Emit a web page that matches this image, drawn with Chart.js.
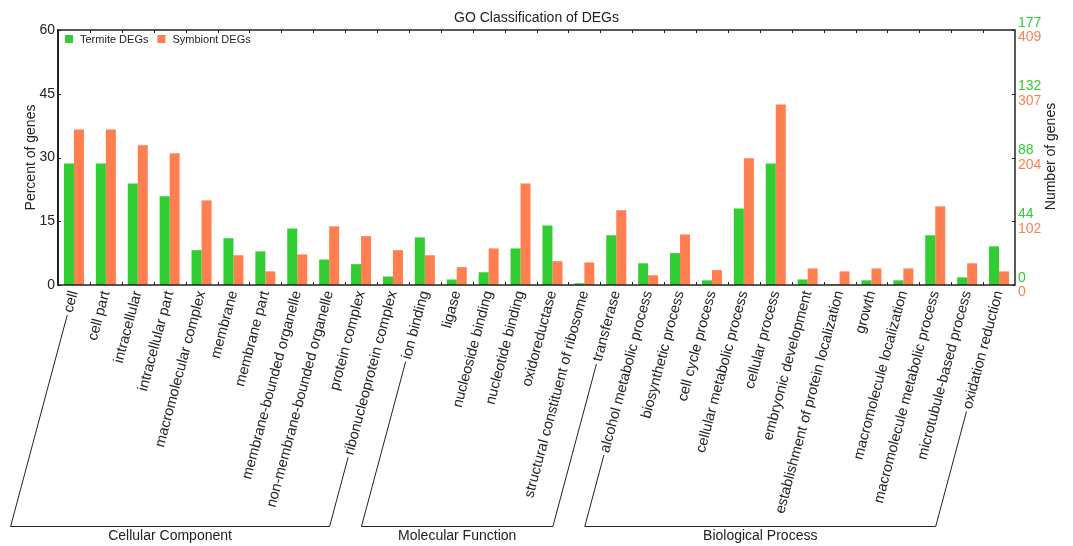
<!DOCTYPE html>
<html><head><meta charset="utf-8">
<script src="https://cdn.jsdelivr.net/npm/chart.js@4/dist/chart.umd.min.js"></script>
<style>html,body{margin:0;padding:0;background:#fff;}</style>
</head><body>
<canvas id="c" width="1073" height="546"></canvas>
<script>
const categories = ['cell','cell part','intracellular','intracellular part','macromolecular complex','membrane','membrane part','membrane-bounded organelle','non-membrane-bounded organelle','protein complex','ribonucleoprotein complex','ion binding','ligase','nucleoside binding','nucleotide binding','oxidoreductase','structural constituent of ribosome','transferase','alcohol metabolic process','biosynthetic process','cell cycle process','cellular metabolic process','cellular process','embryonic development','establishment of protein localization','growth','macromolecule localization','macromolecule metabolic process','microtubule-based process','oxidation reduction'];
const termite = [28.6,28.6,23.9,20.9,8.2,11.0,7.9,13.3,6.0,4.9,2.0,11.2,1.3,3.0,8.6,14.0,0.4,11.7,5.1,7.5,1.1,18.0,28.6,1.3,0.15,1.1,1.1,11.7,1.8,9.1];
const symbiont = [36.6,36.6,32.9,31.0,19.9,7.0,3.2,7.2,13.8,11.5,8.2,7.0,4.2,8.6,23.9,5.6,5.3,17.6,2.3,11.9,3.5,29.8,42.5,3.9,3.2,3.9,3.9,18.5,5.1,3.2];
const percentTicks = [0,15,30,45,60];
const termiteCountTicks = ['0','44','88','132','177'];
const symbiontCountTicks = ['0','102','204','307','409'];
const groupNames = ['Cellular Component','Molecular Function','Biological Process'];
const groupFirst = [0,11,18];
const groupLast = [10,17,29];

const GREEN = '#32CD32', ORANGE = '#FF7F50', INK = '#222';
const FONT = 'Arial, "Liberation Sans", sans-serif';
Chart.defaults.font.family = FONT;
Chart.defaults.color = INK;

function line(ctx,x1,y1,x2,y2){ctx.beginPath();ctx.moveTo(x1,y1);ctx.lineTo(x2,y2);ctx.stroke();}

const decor = {
  id:'decor',
  afterDraw(chart){
    const {ctx, chartArea:a, scales:{x,y,y2}} = chart;
    ctx.save();
    ctx.strokeStyle = INK;
    ctx.lineWidth = 1.5;
    ctx.strokeRect(a.left, a.top, a.right-a.left, a.bottom-a.top);
    ctx.lineWidth = 2;
    line(ctx, a.left, a.top-0.75, a.left, a.bottom+0.75);
    ctx.lineWidth = 1;
    y.ticks.forEach((t,i)=>{const py=Math.round(y.getPixelForTick(i))+0.5; line(ctx,a.left,py,a.left+3,py); line(ctx,a.right-3,py,a.right,py);});
    for(let i=0;i<categories.length-1;i++){
      const px = Math.round((x.getPixelForTick(i)+x.getPixelForTick(i+1))/2)+0.5;
      line(ctx,px,a.bottom,px,a.bottom-3); line(ctx,px,a.top,px,a.top+3);
    }
    // orange count labels on right axis
    ctx.fillStyle = ORANGE; ctx.font = '14px '+FONT; ctx.textAlign='left'; ctx.textBaseline='middle';
    y2.ticks.forEach((t,i)=>{ ctx.fillText(symbiontCountTicks[i], y2.left+3, y2.getPixelForTick(i)+7.6); });
    // right axis title, reading bottom to top
    ctx.save();
    ctx.translate(1051, (a.top+a.bottom)/2 - 1);
    ctx.rotate(-Math.PI/2);
    ctx.fillStyle = INK; ctx.textAlign='center'; ctx.textBaseline='middle';
    ctx.fillText('Number of genes', 0, 0);
    ctx.restore();
    // legend
    ctx.font = '11px '+FONT; ctx.textAlign='left'; ctx.textBaseline='middle';
    let lx = a.left+7;
    chart.data.datasets.forEach(ds=>{
      ctx.fillStyle = ds.backgroundColor; ctx.fillRect(lx, a.top+5, 8, 8);
      ctx.fillStyle = INK; ctx.fillText(ds.label, lx+15, a.top+9.5);
      lx += 15 + ctx.measureText(ds.label).width + 9;
    });
    // group brackets
    ctx.font = '14.5px '+FONT;
    const ang = x.labelRotation*Math.PI/180, cx=Math.cos(ang), sy=Math.sin(ang);
    const baseY = 526.5, gap = 4, ay = x.top + 5;
    const endPt = i => {
      const L = ctx.measureText(categories[i]).width + gap;
      const sxp = x.getPixelForTick(i) - cx*L, syp = ay + sy*L;
      const t = (baseY - syp)/sy;
      return [sxp, syp, sxp - cx*t];
    };
    ctx.strokeStyle = INK; ctx.lineWidth = 1;
    ctx.font = '14px '+FONT;
    groupNames.forEach((name,g)=>{
      ctx.font = '14.5px '+FONT;
      const p = endPt(groupFirst[g]), q = endPt(groupLast[g]);
      ctx.beginPath(); ctx.moveTo(p[0],p[1]); ctx.lineTo(p[2],baseY); ctx.lineTo(q[2],baseY); ctx.lineTo(q[0],q[1]); ctx.stroke();
      ctx.font = '14px '+FONT;
      ctx.fillStyle = INK; ctx.textAlign='center'; ctx.textBaseline='middle';
      ctx.fillText(name, (p[2]+q[2])/2, baseY+10);
    });
    ctx.restore();
  }
};

new Chart(document.getElementById('c'), {
  type:'bar',
  data:{
    labels: categories,
    datasets:[
      {label:'Termite DEGs', data: termite, backgroundColor: GREEN, borderWidth:0, categoryPercentage:0.627, barPercentage:1, yAxisID:'y'},
      {label:'Symbiont DEGs', data: symbiont, backgroundColor: ORANGE, borderWidth:0, categoryPercentage:0.627, barPercentage:1, yAxisID:'y'}
    ]
  },
  options:{
    responsive:false, animation:false, devicePixelRatio:1,
    layout:{padding:0},
    plugins:{
      title:{display:true, text:'GO Classification of DEGs', color:INK, font:{size:14, weight:'normal'}, padding:{top:10, bottom:3.2}},
      legend:{display:false},
      tooltip:{enabled:false}
    },
    scales:{
      x:{ grid:{display:false, drawTicks:false}, border:{display:false},
          ticks:{autoSkip:false, minRotation:75, maxRotation:75, padding:4, color:INK, font:{size:14.5}},
          afterFit(s){ s.height = 261; } },
      y:{ position:'left', min:0, max:60, grid:{display:false, drawTicks:false}, border:{display:false},
          afterBuildTicks(s){ s.ticks = percentTicks.map(v=>({value:v})); },
          ticks:{padding:3, color:INK, font:{size:14}},
          title:{display:true, text:'Percent of genes', color:INK, font:{size:14}, padding:{top:23, bottom:0}},
          afterFit(s){ s.width = 58; } },
      y2:{ position:'right', min:0, max:60, grid:{display:false, drawTicks:false}, border:{display:false},
          afterBuildTicks(s){ s.ticks = percentTicks.map(v=>({value:v})); },
          ticks:{padding:3, color:GREEN, labelOffset:-7.2, font:{size:14}, callback:(v,i)=>termiteCountTicks[i]},
          title:{display:false},
          afterFit(s){ s.width = 58; } }
    }
  },
  plugins:[decor]
});
</script>
</body></html>
